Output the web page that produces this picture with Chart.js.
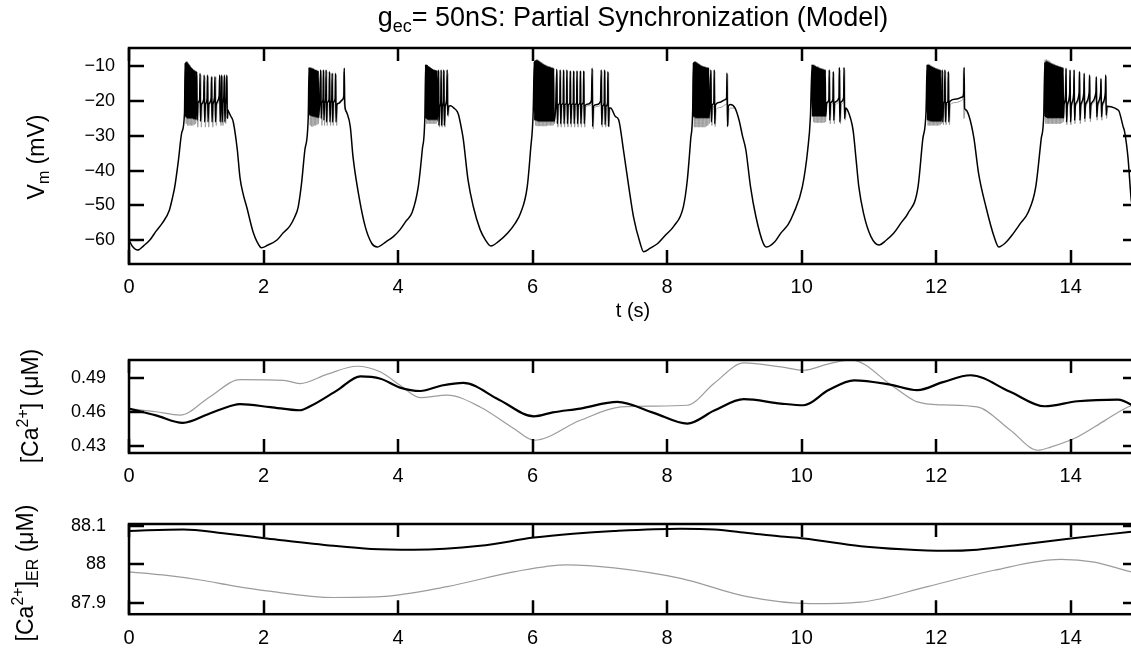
<!DOCTYPE html>
<html>
<head>
<meta charset="utf-8">
<script src="https://cdn.jsdelivr.net/npm/chart.js@4.4.0/dist/chart.umd.min.js"></script>
<style>
  html, body { margin: 0; padding: 0; background: #fff; width: 1131px; height: 648px; overflow: hidden; }
  canvas { position: absolute; left: 0; top: 0; }
</style>
</head>
<body>
<canvas id="vm" width="1160" height="648"></canvas>
<canvas id="ca" width="1160" height="648"></canvas>
<canvas id="er" width="1160" height="648"></canvas>
<script>
var FONT = '"Liberation Sans", Arial, Helvetica, sans-serif';

// tick positions
var timeTicks = [0, 2, 4, 6, 8, 10, 12, 14];
var vmTicks = [-60, -50, -40, -30, -20, -10];
var caTicks = [0.43, 0.46, 0.49];
var erTicks = [87.9, 88, 88.1];

// membrane potential, cell A (s, mV)
var vmCellA = [
  [0,-60],[0.05,-61.8],[0.13,-62.9],[0.22,-61.6],[0.31,-60],[0.4,-57.5],[0.5,-55],[0.6,-51.4],[0.65,-47.5],[0.68,-44.7],[0.735,-37],[0.785,-29],[0.825,-23.4],
  [0.835,-9.0],[0.842,-24.5],[0.85,-8.6],[0.857,-24.8],[0.865,-8.7],[0.872,-25],[0.88,-9.1],[0.887,-25],[0.895,-9.5],[0.902,-25],[0.91,-9.9],[0.917,-25],[0.925,-10.3],[0.932,-25],[0.94,-10.6],[0.947,-25],[0.955,-10.9],[0.962,-25.2],[0.97,-11.1],[0.977,-25.2],[0.985,-11.3],[0.992,-25.3],
  [1.0,-20],[1.006,-11.5],[1.013,-25.5],[1.025,-20.5],[1.05,-19.5],[1.056,-12],[1.063,-25.8],[1.075,-21],[1.11,-19.5],[1.117,-12.5],[1.124,-26],[1.136,-21],[1.16,-19.5],[1.167,-12.5],[1.174,-26],[1.186,-21],[1.22,-19.3],[1.227,-13],[1.234,-26],[1.246,-21],[1.27,-19],[1.278,-13],[1.285,-26],[1.297,-21],[1.34,-18.5],[1.348,-12.5],[1.355,-26],[1.363,-21],[1.372,-19.5],[1.378,-12.5],[1.385,-26],[1.395,-21],[1.41,-18.5],[1.418,-12.5],[1.425,-26],[1.435,-20.5],[1.447,-19],[1.454,-12.5],[1.461,-25],[1.468,-22.5],[1.48,-23],
  [1.51,-24.2],[1.55,-26],[1.61,-34],[1.65,-42],[1.70,-47],[1.75,-50.5],[1.85,-58],[1.95,-62],[1.97,-62.2],[2.06,-61.5],[2.2,-60],[2.29,-58],[2.39,-56],[2.46,-53.5],[2.515,-50.5],[2.565,-43.7],[2.615,-34],[2.665,-24.5],
  [2.677,-10.3],[2.684,-24],[2.692,-10.3],[2.699,-24.2],[2.707,-10.4],[2.714,-24.3],[2.722,-10.5],[2.729,-24.4],[2.737,-10.6],[2.744,-24.5],[2.752,-10.8],[2.759,-24.5],[2.767,-11],[2.774,-24.6],[2.782,-11],[2.789,-24.7],[2.797,-11.2],[2.804,-24.8],[2.812,-11.3],[2.819,-24.8],
  [2.835,-20],[2.85,-11],[2.857,-25],[2.868,-20.5],[2.884,-19.5],[2.89,-11],[2.897,-25.5],[2.908,-20.5],[2.924,-19.5],[2.93,-11],[2.937,-26],[2.948,-20.5],[2.974,-19.5],[2.98,-11.5],[2.987,-26],[2.998,-20.5],[3.014,-19.5],[3.02,-12],[3.027,-26],[3.038,-20.5],[3.064,-19.3],[3.07,-12],[3.077,-26],[3.09,-21],[3.12,-20.6],[3.17,-19.6],[3.194,-18.5],[3.2,-10.5],[3.207,-20],[3.22,-22.5],[3.24,-23.4],
  [3.29,-27.4],[3.33,-36],[3.41,-46.5],[3.51,-56],[3.61,-61],[3.69,-62],[3.82,-60.5],[3.93,-59],[4.03,-57],[4.12,-54.5],[4.21,-52],[4.3,-44.7],[4.36,-34],[4.4,-23.4],
  [4.41,-9.5],[4.417,-25],[4.425,-9.5],[4.432,-25.2],[4.44,-9.7],[4.447,-25.4],[4.455,-10],[4.462,-25.4],[4.47,-10.2],[4.477,-25.4],[4.485,-10.4],[4.492,-25.4],[4.5,-10.6],[4.507,-25.4],[4.515,-10.8],[4.522,-25.4],[4.53,-11],[4.537,-25.4],[4.545,-11],[4.552,-25.4],[4.56,-11.2],[4.567,-25.4],[4.575,-11.2],[4.582,-25.4],
  [4.592,-21],[4.6,-11],[4.607,-27],[4.618,-21.5],[4.634,-20.5],[4.64,-11],[4.647,-27],[4.658,-21.5],[4.674,-20],[4.68,-11],[4.687,-27],[4.7,-21.5],[4.722,-19.5],[4.73,-11],[4.737,-24],[4.75,-21.5],[4.78,-21.3],[4.83,-22],[4.88,-23],[4.9,-24],[4.95,-28.7],[4.97,-31],[5.04,-42.7],[5.12,-50.5],[5.22,-57],[5.3,-60],[5.38,-61.7],[5.5,-60.3],[5.63,-58],[5.73,-55.5],[5.82,-52.3],[5.92,-44.7],[5.97,-34],[6.01,-22.5],
  [6.025,-8.6],[6.032,-25.5],[6.04,-8.3],[6.047,-25.6],[6.055,-8.1],[6.062,-25.7],[6.07,-8.1],[6.077,-25.8],[6.085,-8.3],[6.092,-25.9],[6.1,-8.5],[6.107,-25.9],[6.115,-8.7],[6.122,-25.9],[6.13,-8.9],[6.137,-25.9],[6.145,-9.1],[6.152,-25.9],[6.16,-9.3],[6.167,-25.9],[6.175,-9.5],[6.182,-25.9],[6.19,-9.6],[6.197,-25.9],[6.205,-9.8],[6.212,-25.9],[6.22,-9.9],[6.227,-25.9],[6.235,-10],[6.242,-25.9],[6.25,-10.1],[6.257,-25.9],[6.265,-10.2],[6.272,-25.9],[6.28,-10.3],[6.287,-25.9],[6.295,-10.4],[6.302,-25.9],[6.31,-10.5],[6.317,-25.9],
  [6.345,-21],[6.36,-10.8],[6.367,-26.5],[6.38,-21],[6.404,-20.5],[6.41,-11],[6.417,-26.5],[6.43,-21],[6.454,-20.5],[6.46,-11],[6.467,-26.5],[6.48,-21],[6.504,-20.5],[6.51,-11],[6.517,-26.5],[6.53,-21],[6.554,-20.5],[6.56,-11.3],[6.567,-26.5],[6.58,-21],[6.604,-20.5],[6.61,-11.3],[6.617,-26.5],[6.63,-21],[6.654,-20.5],[6.66,-11.3],[6.667,-26.5],[6.68,-21],[6.704,-20.5],[6.71,-11.3],[6.717,-26.5],[6.73,-21],[6.754,-20.3],[6.76,-11.3],[6.767,-26.5],[6.78,-21.3],[6.83,-20.8],[6.875,-19.8],[6.885,-10.5],[6.892,-27.3],[6.905,-21.5],[6.96,-21],[7.01,-20],[7.02,-11],[7.027,-26.8],[7.04,-21.5],[7.064,-20.5],[7.07,-11],[7.077,-26.8],[7.09,-21.5],[7.114,-20.5],[7.12,-11.5],[7.127,-27.3],[7.14,-22],[7.16,-22],
  [7.23,-24.4],[7.28,-25.4],[7.35,-34],[7.43,-44.7],[7.5,-53.3],[7.6,-61],[7.65,-63.4],[7.75,-62.3],[7.86,-61],[7.98,-58.5],[8.1,-56],[8.24,-50.5],[8.3,-42.7],[8.35,-31],[8.38,-22.5],
  [8.39,-8.9],[8.397,-24.5],[8.405,-8.6],[8.412,-24.7],[8.42,-8.6],[8.427,-24.9],[8.435,-8.8],[8.442,-24.9],[8.45,-9],[8.457,-24.9],[8.465,-9.2],[8.472,-24.9],[8.48,-9.4],[8.487,-24.9],[8.495,-9.6],[8.502,-24.9],[8.51,-9.8],[8.517,-24.9],[8.525,-9.9],[8.532,-24.9],[8.54,-10],[8.547,-24.9],[8.555,-10.1],[8.562,-24.9],[8.57,-10.2],[8.577,-24.9],[8.585,-10.3],[8.592,-24.9],[8.6,-10.3],[8.607,-24.9],[8.615,-10.4],[8.622,-24.9],
  [8.635,-21],[8.65,-11],[8.657,-26],[8.67,-21],[8.694,-20.5],[8.7,-11],[8.707,-26.5],[8.72,-21],[8.79,-20.3],[8.86,-19.6],[8.884,-19],[8.89,-11.9],[8.897,-27.3],[8.91,-21.5],[8.94,-21],[9.01,-22],[9.07,-25.5],[9.12,-30],[9.17,-34],[9.24,-44.7],[9.32,-53.3],[9.43,-61],[9.48,-62],[9.6,-60.5],[9.69,-58],[9.8,-55.5],[9.88,-52.3],[10.01,-44.7],[10.09,-34],[10.13,-24.5],
  [10.155,-9.5],[10.162,-24.4],[10.17,-9.5],[10.177,-24.4],[10.185,-9.6],[10.192,-24.4],[10.2,-9.8],[10.207,-24.4],[10.215,-10],[10.222,-24.4],[10.23,-10.1],[10.237,-24.4],[10.245,-10.2],[10.252,-24.4],[10.26,-10.4],[10.267,-24.4],[10.275,-10.5],[10.282,-24.4],[10.29,-10.6],[10.297,-24.4],[10.305,-10.7],[10.312,-24.4],[10.32,-10.8],[10.327,-24.4],[10.335,-10.9],[10.342,-24.4],[10.35,-11],[10.357,-24.4],
  [10.375,-20.4],[10.404,-19.6],[10.41,-11],[10.417,-25.5],[10.43,-20.5],[10.464,-19.5],[10.47,-11.5],[10.477,-25.5],[10.49,-20.4],[10.554,-19],[10.56,-10.3],[10.567,-26],[10.58,-20.4],[10.624,-19],[10.63,-10.3],[10.637,-25],[10.655,-22],[10.68,-22.5],[10.7,-23.4],[10.75,-26.8],[10.77,-29.2],[10.81,-37],[10.85,-44.7],[10.92,-52.3],[11.03,-59],[11.15,-61.4],[11.26,-60],[11.37,-58],[11.48,-55],[11.58,-52.3],[11.73,-44.7],[11.8,-31],[11.85,-22.5],
  [11.865,-9.5],[11.872,-25.5],[11.88,-9.4],[11.887,-25.6],[11.895,-9.5],[11.902,-25.7],[11.91,-9.7],[11.917,-25.8],[11.925,-9.9],[11.932,-25.9],[11.94,-10],[11.947,-25.9],[11.955,-10.2],[11.962,-25.9],[11.97,-10.3],[11.977,-25.9],[11.985,-10.5],[11.992,-25.9],[12.0,-10.6],[12.007,-25.9],[12.015,-10.7],[12.022,-25.9],[12.03,-10.8],[12.037,-25.9],[12.045,-10.9],[12.052,-25.9],[12.06,-11],[12.067,-25.9],
  [12.084,-20],[12.09,-11],[12.097,-26],[12.11,-20.5],[12.124,-20],[12.13,-11],[12.137,-26],[12.15,-20.5],[12.174,-20],[12.18,-11.5],[12.187,-26],[12.2,-20.1],[12.3,-19.4],[12.39,-18.8],[12.41,-17.5],[12.415,-10.3],[12.422,-22],[12.44,-22.5],[12.49,-24.4],[12.56,-30.6],[12.63,-40.8],[12.74,-50.5],[12.86,-59],[12.93,-62],[13.03,-60.8],[13.15,-58],[13.26,-55],[13.36,-52.3],[13.48,-44.7],[13.56,-31],[13.6,-23.4],
  [13.615,-8.9],[13.622,-24.5],[13.63,-8.6],[13.637,-24.7],[13.645,-8.5],[13.652,-24.9],[13.66,-8.6],[13.667,-24.9],[13.675,-8.8],[13.682,-24.9],[13.69,-9],[13.697,-24.9],[13.705,-9.1],[13.712,-24.9],[13.72,-9.2],[13.727,-24.9],[13.735,-9.4],[13.742,-24.9],[13.75,-9.5],[13.757,-24.9],[13.765,-9.6],[13.772,-24.9],[13.78,-9.7],[13.787,-24.9],[13.795,-9.8],[13.802,-24.9],[13.81,-9.9],[13.817,-24.9],[13.825,-10],[13.832,-24.9],[13.84,-10.1],[13.847,-24.9],[13.855,-10.2],[13.862,-24.9],[13.87,-10.3],[13.877,-24.9],[13.885,-10.4],[13.892,-24.9],
  [13.9,-21],[13.925,-18],[13.93,-10.5],[13.937,-26],[13.95,-21],[13.984,-17.8],[13.99,-11],[13.997,-26],[14.01,-21],[14.044,-17.8],[14.05,-11],[14.057,-25.5],[14.07,-21],[14.124,-17.6],[14.13,-11.5],[14.137,-25.5],[14.15,-21],[14.194,-17.6],[14.2,-12],[14.207,-25],[14.22,-21],[14.274,-17.5],[14.28,-12.5],[14.287,-25],[14.3,-21],[14.374,-17.5],[14.38,-13],[14.387,-24.5],[14.4,-21],[14.444,-17.5],[14.45,-13.5],[14.457,-24.5],[14.47,-21],[14.514,-17.5],[14.52,-12.5],[14.527,-24],[14.54,-21.5],
  [14.6,-21.6],[14.7,-22.5],[14.72,-23],[14.78,-27.4],[14.8,-28.7],[14.85,-36],[14.9,-48.5],[14.95,-54],[15,-57.5]
];

// membrane potential, cell B: it runs under cell A between bursts, so only the bursts are listed (null = break)
var vmCellB = [
  [0.825,-23.4],[0.84,-9.5],[0.85,-26.5],[0.86,-9.3],[0.87,-27],[0.88,-9.8],[0.89,-27],[0.9,-10.2],[0.91,-27],[0.92,-10.6],[0.93,-27],[0.94,-11],[0.95,-27],[0.96,-11.3],[0.97,-26.8],[0.98,-11.5],[0.99,-26.5],
  [1.003,-20.5],[1.015,-12.5],[1.022,-27.5],[1.035,-21],[1.062,-20],[1.068,-12.5],[1.075,-27.5],[1.09,-21],[1.12,-20],[1.128,-13],[1.135,-27.5],[1.15,-21],[1.172,-20],[1.178,-13],[1.185,-27.5],[1.2,-21],[1.232,-20],[1.238,-13],[1.245,-27.5],[1.26,-21],[1.284,-20],[1.29,-13],[1.297,-27],[1.31,-21],[1.354,-19.5],[1.36,-13],[1.367,-27],[1.377,-21],[1.385,-20],[1.39,-13],[1.397,-27],[1.41,-21],[1.425,-20],[1.43,-13],[1.437,-26.5],[1.45,-21],[1.458,-20],[1.462,-13],[1.469,-25],[1.48,-23],[1.5,null],
  [2.665,-24.5],[2.685,-10.5],[2.695,-27],[2.705,-10.6],[2.715,-27.3],[2.725,-10.8],[2.735,-27.3],[2.745,-11],[2.755,-27],[2.765,-11.2],[2.775,-27],[2.785,-11.4],[2.795,-26.8],[2.805,-11.5],[2.815,-26.5],
  [2.83,-20.5],[2.86,-11.5],[2.867,-27],[2.88,-21],[2.895,-20],[2.9,-11.5],[2.907,-27],[2.92,-21],[2.934,-20],[2.94,-11.5],[2.947,-27],[2.96,-21],[2.984,-20],[2.99,-12],[2.997,-27],[3.01,-21],[3.024,-20],[3.03,-12],[3.037,-27],[3.05,-21],[3.074,-20],[3.08,-12.5],[3.087,-27],[3.1,-21.2],[3.15,-20.2],[3.186,-19],[3.192,-11.5],[3.2,-21],[3.24,-23.4],[3.3,null],
  [4.4,-23.4],[4.415,-9.8],[4.425,-26.5],[4.435,-10],[4.445,-26.5],[4.455,-10.2],[4.465,-26.5],[4.475,-10.4],[4.485,-26.5],[4.495,-10.6],[4.505,-26.5],[4.515,-10.8],[4.525,-26.5],[4.535,-11],[4.545,-26.5],[4.555,-11],[4.565,-26.5],[4.575,-11.2],[4.585,-26],
  [4.6,-21.5],[4.609,-11.5],[4.616,-27.5],[4.63,-21.5],[4.645,-20.5],[4.65,-11.5],[4.657,-27.5],[4.67,-21.5],[4.684,-20.5],[4.69,-11.5],[4.697,-27.5],[4.71,-21.5],[4.734,-20],[4.74,-12],[4.747,-24.5],[4.76,-22],[4.78,-21.3],[4.8,null],
  [6.01,-22.5],[6.035,-8.3],[6.045,-27],[6.055,-8.2],[6.065,-27.2],[6.075,-8.4],[6.085,-27.2],[6.095,-8.7],[6.105,-27.2],[6.115,-9],[6.125,-27.2],[6.135,-9.3],[6.145,-27.2],[6.155,-9.6],[6.165,-27.2],[6.175,-9.8],[6.185,-27.2],[6.195,-10],[6.205,-27.2],[6.215,-10.2],[6.225,-27],[6.235,-10.3],[6.245,-27],[6.255,-10.4],[6.265,-27],[6.275,-10.5],[6.285,-27],[6.295,-10.6],[6.305,-27],[6.315,-10.7],[6.325,-26.5],
  [6.34,-21.5],[6.368,-11.5],[6.375,-27.5],[6.39,-21.5],[6.413,-21],[6.418,-11.5],[6.425,-27.5],[6.44,-21.5],[6.463,-21],[6.468,-11.5],[6.475,-27.5],[6.49,-21.5],[6.513,-21],[6.518,-11.5],[6.525,-27.5],[6.54,-21.5],[6.563,-21],[6.568,-11.5],[6.575,-27.5],[6.59,-21.5],[6.613,-21],[6.618,-11.5],[6.625,-27.5],[6.64,-21.5],[6.663,-21],[6.668,-11.5],[6.675,-27.5],[6.69,-21.5],[6.713,-21],[6.718,-11.5],[6.725,-27.5],[6.74,-21.5],[6.763,-21],[6.768,-11.5],[6.775,-27.5],[6.79,-21.8],[6.84,-21.3],[6.886,-20.3],[6.895,-11],[6.902,-28],[6.915,-22],[6.97,-21.5],[7.02,-20.5],[7.03,-11.5],[7.037,-27.5],[7.05,-22],[7.074,-21],[7.08,-11.5],[7.087,-27.5],[7.1,-22],[7.124,-21],[7.13,-12],[7.137,-27.5],[7.15,-22.3],[7.16,-22],[7.2,null],
  [8.38,-22.5],[8.395,-9.3],[8.405,-27.5],[8.415,-9],[8.425,-27.5],[8.435,-9.2],[8.445,-27.5],[8.455,-9.4],[8.465,-27.5],[8.475,-9.6],[8.485,-27.5],[8.495,-9.8],[8.505,-27.5],[8.515,-10],[8.525,-27.5],[8.535,-10.1],[8.545,-27.5],[8.555,-10.2],[8.565,-27.5],[8.575,-10.3],[8.585,-27.2],[8.595,-10.4],[8.605,-27],[8.615,-10.5],[8.625,-26.5],
  [8.64,-21.5],[8.658,-11.5],[8.665,-27],[8.68,-21.8],[8.702,-21.3],[8.708,-11.5],[8.715,-27.3],[8.73,-22.4],[8.8,-21.8],[8.87,-21],[8.894,-20],[8.9,-12.5],[8.907,-27],[8.92,-22.5],[8.95,-22],[9.01,-22],[9.05,null],
  [10.13,-24.5],[10.165,-9.8],[10.175,-26],[10.185,-9.9],[10.195,-26.2],[10.205,-10],[10.215,-26.2],[10.225,-10.2],[10.235,-26.2],[10.245,-10.4],[10.255,-26.2],[10.265,-10.6],[10.275,-26.2],[10.285,-10.8],[10.295,-26.2],[10.305,-10.9],[10.315,-26.2],[10.325,-11],[10.335,-26.2],[10.345,-11],[10.355,-26],
  [10.37,-20.8],[10.413,-19.8],[10.418,-11.5],[10.425,-26.5],[10.44,-21],[10.472,-20],[10.478,-12],[10.485,-26.5],[10.5,-21],[10.564,-19.5],[10.57,-11],[10.577,-26.5],[10.59,-21],[10.634,-19.5],[10.64,-11],[10.647,-25.5],[10.665,-22.3],[10.7,-23.4],[10.72,null],
  [11.85,-22.5],[11.87,-9.8],[11.88,-27],[11.89,-9.7],[11.9,-27],[11.91,-9.9],[11.92,-27],[11.93,-10.1],[11.94,-27],[11.95,-10.3],[11.96,-27],[11.97,-10.5],[11.98,-27],[11.99,-10.7],[12.0,-27],[12.01,-10.9],[12.02,-27],[12.03,-11],[12.04,-27],[12.05,-11.1],[12.06,-26.8],[12.07,-11.2],[12.08,-26.5],
  [12.092,-21],[12.1,-11.5],[12.107,-26.8],[12.12,-21],[12.134,-20.5],[12.14,-11.5],[12.147,-26.8],[12.16,-21],[12.184,-20.5],[12.19,-12],[12.197,-26.8],[12.21,-21],[12.3,-20.4],[12.38,-19.8],[12.4,-18.5],[12.405,-11],[12.412,-25],[12.43,-22.5],[12.45,-23],[12.49,-24.4],[12.52,null],
  [13.6,-23.4],[13.62,-8.1],[13.63,-26.5],[13.64,-8],[13.65,-26.5],[13.66,-8.2],[13.67,-26.5],[13.68,-8.4],[13.69,-26.5],[13.7,-8.7],[13.71,-26.5],[13.72,-9],[13.73,-26.5],[13.74,-9.2],[13.75,-26.5],[13.76,-9.4],[13.77,-26.5],[13.78,-9.6],[13.79,-26.5],[13.8,-9.8],[13.81,-26.5],[13.82,-10],[13.83,-26.5],[13.84,-10.1],[13.85,-26.5],[13.86,-10.2],[13.87,-26.3],[13.88,-10.3],[13.89,-26],
  [13.905,-21],[13.935,-11],[13.942,-26.8],[13.955,-21.5],[13.99,-18],[13.995,-11.5],[14.002,-26.8],[14.015,-21.5],[14.05,-18],[14.055,-11.5],[14.062,-26.5],[14.075,-21.5],[14.13,-18],[14.135,-12],[14.142,-26.5],[14.155,-21.5],[14.2,-18],[14.205,-12.5],[14.212,-26],[14.225,-21.5],[14.28,-18],[14.285,-13],[14.292,-26],[14.305,-21.5],[14.38,-18],[14.385,-13.5],[14.392,-25.5],[14.405,-21.5],[14.45,-18],[14.455,-14],[14.462,-25.5],[14.475,-21.5],[14.52,-18],[14.525,-13],[14.532,-25],[14.55,-22],[14.6,-21.6]
];

// cytosolic calcium (s, uM)
var caCellA = [
  [0,0.4628],[0.4,0.4568],[0.8,0.4502],[1.2,0.4585],[1.55,0.4657],[1.65,0.4666],[2.1,0.4641],[2.54,0.4613],[2.7,0.4650],[3.1,0.4790],[3.44,0.4911],[3.74,0.4890],[4.03,0.4812],[4.33,0.4782],[4.65,0.4830],[4.97,0.4853],[5.5,0.4706],[6.02,0.4560],[6.3,0.4595],[6.71,0.4628],[7.26,0.4686],[7.8,0.4590],[8.30,0.4496],[8.7,0.4610],[9.14,0.4710],[9.69,0.4672],[10.03,0.4657],[10.4,0.4790],[10.78,0.4876],[11.3,0.4840],[11.72,0.4789],[12.1,0.4860],[12.51,0.4920],[13.1,0.4775],[13.61,0.4648],[14.1,0.4692],[14.7,0.4707],[15,0.4630]
];
var caCellB = [
  [0,0.4628],[0.4,0.4600],[0.76,0.4570],[1.2,0.4730],[1.65,0.4882],[2.3,0.4876],[2.54,0.4847],[2.95,0.4930],[3.39,0.4999],[3.74,0.4949],[4.03,0.4832],[4.33,0.4724],[4.73,0.4745],[5.22,0.4642],[5.72,0.4453],[6.02,0.4350],[6.71,0.4525],[7.31,0.4642],[7.8,0.4650],[8.30,0.4657],[8.7,0.4850],[9.14,0.5028],[9.69,0.4993],[10.03,0.4964],[10.4,0.5020],[10.73,0.5058],[11.37,0.4818],[11.72,0.4686],[12.1,0.4660],[12.61,0.4642],[13.1,0.4440],[13.51,0.4262],[13.7,0.4290],[14.1,0.4379],[14.5,0.4520],[14.85,0.4642],[15,0.4670]
];

// ER calcium (s, uM)
var erCellA = [
  [0,88.086],[0.81,88.090],[1.4,88.080],[2.05,88.067],[3.04,88.048],[3.6,88.040],[4.23,88.038],[5.22,88.048],[6.02,88.069],[6.6,88.079],[7.21,88.086],[8.2,88.092],[8.7,88.090],[9.2,88.081],[9.69,88.072],[10.03,88.067],[10.88,88.047],[11.5,88.039],[12.12,88.035],[12.61,88.038],[13.3,88.052],[14.0,88.067],[14.9,88.084],[15,88.086]
];
var erCellB = [
  [0,87.981],[0.5,87.973],[1.06,87.960],[1.55,87.945],[2.05,87.932],[3.04,87.915],[3.74,87.917],[4.73,87.943],[5.72,87.981],[6.51,87.999],[7.21,87.991],[8.2,87.964],[9.19,87.917],[10.13,87.899],[10.88,87.903],[11.87,87.943],[12.86,87.985],[13.85,88.013],[14.35,88.006],[14.9,87.981],[15,87.978]
];

function toXY(rows) {
  return rows.map(function (r) { return { x: r[0], y: r[1] }; });
}

// draws text runs with sub/superscripts, left-to-right from the given anchor
function drawRuns(ctx, runs, x, y, center) {
  var total = 0;
  runs.forEach(function (r) { ctx.font = r[1] + 'px ' + FONT; total += ctx.measureText(r[0]).width; });
  var cx = center ? x - total / 2 : x;
  runs.forEach(function (r) {
    ctx.font = r[1] + 'px ' + FONT;
    ctx.fillText(r[0], cx, y + r[2]);
    cx += ctx.measureText(r[0]).width;
  });
}

function drawVertical(ctx, runs, x, y) {
  ctx.save();
  ctx.translate(x, y);
  ctx.rotate(-Math.PI / 2);
  drawRuns(ctx, runs, 0, 0, true);
  ctx.restore();
}

// box frame with inward tick marks on all four sides, plus the panel texts
function framePlugin(drawTexts) {
  return {
    id: 'frame',
    afterDraw: function (chart) {
      var ctx = chart.ctx, a = chart.chartArea;
      var xs = chart.scales.x, ys = chart.scales.y;
      ctx.save();
      ctx.strokeStyle = '#000';
      ctx.lineWidth = 2.5;
      ctx.strokeRect(a.left, a.top, a.right - a.left, a.bottom - a.top);
      ctx.beginPath();
      xs.ticks.forEach(function (t) {
        var px = Math.round(xs.getPixelForValue(t.value));
        ctx.moveTo(px, a.bottom); ctx.lineTo(px, a.bottom - 14);
        ctx.moveTo(px, a.top); ctx.lineTo(px, a.top + 13);
      });
      ys.ticks.forEach(function (t) {
        var py = Math.round(ys.getPixelForValue(t.value));
        ctx.moveTo(a.left, py); ctx.lineTo(a.left + 15, py);
        ctx.moveTo(a.right, py); ctx.lineTo(a.right - 15, py);
      });
      ctx.stroke();
      ctx.fillStyle = '#000';
      ctx.textAlign = 'left';
      ctx.textBaseline = 'alphabetic';
      drawTexts(ctx);
      ctx.restore();
    }
  };
}

function makePanel(id, p) {
  return new Chart(document.getElementById(id), {
    type: 'line',
    data: {
      datasets: [
        { data: toXY(p.cellA), borderColor: '#000', borderWidth: p.widthA, pointRadius: 0, cubicInterpolationMode: 'monotone', spanGaps: false },
        { data: toXY(p.cellB), borderColor: '#9c9c9c', borderWidth: p.widthB, pointRadius: 0, cubicInterpolationMode: 'monotone', spanGaps: false }
      ]
    },
    options: {
      responsive: false,
      animation: false,
      devicePixelRatio: 1,
      events: [],
      layout: { padding: { top: p.top, bottom: p.bottom, left: 0, right: 22 } },
      plugins: { legend: { display: false }, tooltip: { enabled: false } },
      scales: {
        x: {
          type: 'linear', min: 0, max: 15, bounds: 'data',
          afterBuildTicks: function (s) { s.ticks = timeTicks.map(function (v) { return { value: v }; }); },
          afterFit: function (s) { s.height = p.xHeight; },
          grid: { display: false, drawTicks: false }, border: { display: false },
          ticks: { color: '#000', font: { family: FONT, size: 20 }, padding: p.xPad, maxRotation: 0, autoSkip: false }
        },
        y: {
          type: 'linear', min: p.yMin, max: p.yMax, bounds: 'data',
          afterBuildTicks: function (s) { s.ticks = p.yTicks.map(function (v) { return { value: v }; }); },
          afterFit: function (s) { s.width = 129; },
          grid: { display: false, drawTicks: false }, border: { display: false },
          ticks: { color: '#000', font: { family: FONT, size: 18 }, padding: p.yPad, autoSkip: false, callback: p.fmt }
        }
      }
    },
    plugins: [framePlugin(p.texts)]
  });
}

makePanel('vm', {
  cellA: vmCellA, cellB: vmCellB, widthA: 1.5, widthB: 1,
  top: 48, bottom: 344, xHeight: 40, xPad: 11,
  yMin: -66.9, yMax: -4.7, yTicks: vmTicks, yPad: 14,
  fmt: function (v) { return (v < 0 ? '\u2212' : '') + Math.abs(v); },
  texts: function (ctx) {
    drawRuns(ctx, [['g', 27, 0], ['ec', 18, 6], ['= 50nS: Partial Synchronization (Model)', 27, 0]], 633, 26, true);
    drawRuns(ctx, [['t (s)', 20, 0]], 633, 317, true);
    drawVertical(ctx, [['V', 23, 0], ['m', 16, 5], [' (mV)', 23, 0]], 44, 157);
  }
});

makePanel('ca', {
  cellA: caCellA, cellB: caCellB, widthA: 2.2, widthB: 1.2,
  top: 360, bottom: 155, xHeight: 40, xPad: 11,
  yMin: 0.4238, yMax: 0.5054, yTicks: caTicks, yPad: 23,
  fmt: function (v) { return v.toFixed(2); },
  texts: function (ctx) {
    drawVertical(ctx, [['[Ca', 23, 0], ['2+', 16, -10], ['] (\u03bcM)', 23, 0]], 38, 406);
  }
});

makePanel('er', {
  cellA: erCellA, cellB: erCellB, widthA: 2, widthB: 1.2,
  top: 524, bottom: 0, xHeight: 32, xPad: 12,
  yMin: 87.872, yMax: 88.104, yTicks: erTicks, yPad: 23,
  fmt: function (v) { return String(v); },
  texts: function (ctx) {
    drawVertical(ctx, [['[Ca', 23, 0], ['2+', 16, -10], [']', 23, 0], ['ER', 16, 5], [' (\u03bcM)', 23, 0]], 33, 573);
  }
});
</script>
</body>
</html>
